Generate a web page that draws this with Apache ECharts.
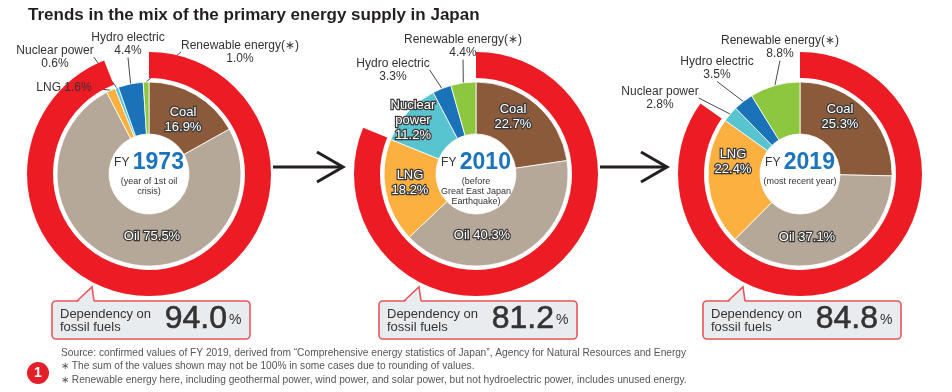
<!DOCTYPE html>
<html><head><meta charset="utf-8">
<script src="https://cdn.jsdelivr.net/npm/echarts@6/dist/echarts.min.js"></script>
<style>html,body{margin:0;padding:0;background:#fff}#c{width:952px;height:392px}</style>
</head><body><div id="c"></div>
<script>
// ---- data ----
const categories = ['Coal', 'Oil', 'LNG', 'Nuclear power', 'Hydro electric', 'Renewable energy(∗)'];
const years = ['1973', '2010', '2019'];
const yearNotes = ['(year of 1st oil\ncrisis)', '(before\nGreat East Japan\nEarthquake)', '(most recent year)'];
const values1973 = [16.9, 75.5, 1.6, 0.6, 4.4, 1.0];
const values2010 = [22.7, 40.3, 18.2, 11.2, 3.3, 4.4];
const values2019 = [25.3, 37.1, 22.4, 2.8, 3.5, 8.8];
const fossilDependency = [94.0, 81.2, 84.8];
const title = 'Trends in the mix of the primary energy supply in Japan';
const footnotes = [
  'Source: confirmed values of FY 2019, derived from “Comprehensive energy statistics of Japan”, Agency for Natural Resources and Energy',
  '∗ The sum of the values shown may not be 100% in some cases due to rounding of values.',
  '∗ Renewable energy here, including geothermal power, wind power, and solar power, but not hydroelectric power, includes unused energy.'
];

// ---- style / layout ----
const FONT = '"Liberation Sans", Arial, sans-serif';
const colors = ['#8b5a3a', '#b6a898', '#fbb040', '#57c4cf', '#1a72b9', '#8dc63f'];
const RED = '#ed1c24';
const centers = [[149, 174], [476, 174], [800, 174]];
const allValues = [values1973, values2010, values2019];
const labelBreaks = [
  ['\n', ' ', ' ', '\n', '\n', '\n'],
  ['\n', ' ', '\n', '\n', '\n', '\n'],
  ['\n', ' ', '\n', '\n', '\n', '\n']
];
const nameOverride = [{}, {3: 'Nuclear\npower'}, {}];
const insideSets = [[0, 1], [0, 1, 2, 3], [0, 1, 2]];
const labelPos = [
  [[183, 120], [152, 236], [64, 88], [55, 57], [128, 44], [240, 52]],
  [[513, 117], [482, 235], [410, 183], [413, 120], [393, 70], [463, 46]],
  [[840, 117], [807, 237], [733, 162], [660, 98], [717, 68], [780, 47]]
];

const insideLabel = {
  position: 'inside', color: '#fff', textBorderColor: '#3a3a3a', textBorderWidth: 2.5,
  fontSize: 13, lineHeight: 15, fontFamily: FONT
};
const outsideLabel = {
  position: 'outside', color: '#333', textBorderWidth: 0,
  fontSize: 12, lineHeight: 13.5, fontFamily: FONT
};

const series = [];
allValues.forEach(function (vals, ci) {
  // outer ring: dependency on fossil fuels
  series.push({
    type: 'pie', silent: true, center: centers[ci], radius: [96, 122],
    startAngle: 90, clockwise: true, avoidLabelOverlap: false, padAngle: 0,
    itemStyle: {borderWidth: 0, borderRadius: 0},
    label: {show: false}, labelLine: {show: false},
    emphasis: {disabled: true},
    data: [
      {value: fossilDependency[ci], name: 'Fossil fuels', itemStyle: {color: RED}},
      {value: +(100 - fossilDependency[ci]).toFixed(1), name: 'Other', itemStyle: {color: 'rgba(0,0,0,0)'}}
    ]
  });
  series.push({
    type: 'pie', silent: true, center: centers[ci], radius: [40, 92],
    startAngle: 90, clockwise: true, avoidLabelOverlap: false, padAngle: 0,
    itemStyle: {borderColor: '#fff', borderWidth: 0.8, borderRadius: 0},
    emphasis: {disabled: true},
    labelLine: {show: true, length: 5, length2: 0, lineStyle: {color: '#333', width: 0.9}},
    data: vals.map(function (v, k) {
      const inside = insideSets[ci].indexOf(k) >= 0;
      const nm = nameOverride[ci][k] || categories[k];
      const txt = nm + labelBreaks[ci][k] + v.toFixed(1) + '%';
      return {
        value: v, name: categories[k], itemStyle: {color: colors[k]},
        label: Object.assign({show: true, formatter: txt}, inside ? insideLabel : outsideLabel),
        labelLine: {show: !inside}
      };
    }),
    labelLayout: function (p) {
      const pos = labelPos[ci][p.dataIndex];
      return {x: pos[0], y: pos[1], align: 'center', verticalAlign: 'middle'};
    }
  });
});

const graphics = [];
graphics.push({type: 'text', left: 28, top: 7, style: {text: title, font: 'bold 17px ' + FONT, fill: '#231f20'}});
// arrows
[[273, 343], [600, 667]].forEach(function (a) {
  graphics.push({type: 'line', shape: {x1: a[0], y1: 167, x2: a[1] - 1, y2: 167}, style: {stroke: '#231f20', lineWidth: 3}});
  graphics.push({type: 'polyline', shape: {points: [[a[1] - 26, 152], [a[1], 167], [a[1] - 26, 182]]}, style: {stroke: '#231f20', lineWidth: 3, fill: null}});
});
centers.forEach(function (c, ci) {
  const cx = c[0];
  graphics.push({type: 'text', x: cx, y: 163, z: 10, style: {
    text: '{a|FY} {b|' + years[ci] + '}', textAlign: 'center', textVerticalAlign: 'middle',
    rich: {a: {font: '12px ' + FONT, fill: '#333'}, b: {font: 'bold 23px ' + FONT, fill: '#1c75bc'}}
  }});
  graphics.push({type: 'text', x: cx, y: 177, z: 10, style: {
    text: yearNotes[ci], textAlign: 'center', textVerticalAlign: 'top',
    font: '9px ' + FONT, fill: '#333', lineHeight: 10
  }});
  // callout box
  graphics.push({type: 'rect', z: 10, shape: {x: cx - 97, y: 301, width: 198, height: 38, r: 4},
    style: {fill: '#e9ecef', stroke: '#e8555b', lineWidth: 1.6}});
  graphics.push({type: 'polygon', z: 11, shape: {points: [[cx - 71.5, 302.5], [cx - 57, 287], [cx - 55, 302.5]]},
    style: {fill: '#e9ecef'}});
  graphics.push({type: 'polyline', z: 12, shape: {points: [[cx - 72, 301], [cx - 57, 287], [cx - 55, 301]]},
    style: {stroke: '#e8555b', lineWidth: 1.6, fill: null}});
  graphics.push({type: 'text', x: cx - 89, y: 320.5, z: 13, style: {
    text: 'Dependency on\nfossil fuels', textVerticalAlign: 'middle', font: '13px ' + FONT, fill: '#333', lineHeight: 13
  }});
  graphics.push({type: 'text', x: cx + 78, y: 319, z: 13, style: {
    text: fossilDependency[ci].toFixed(1), textAlign: 'right', textVerticalAlign: 'middle', font: '32px ' + FONT, fill: '#333',
    stroke: '#333', lineWidth: 0.6
  }});
  graphics.push({type: 'text', x: cx + 80, y: 320, z: 13, style: {
    text: '%', textAlign: 'left', textVerticalAlign: 'middle', font: '14px ' + FONT, fill: '#333'
  }});
});
footnotes.forEach(function (t, i) {
  graphics.push({type: 'text', x: 61, y: 353 + i * 13.5, style: {text: t, textVerticalAlign: 'middle', font: '10.2px ' + FONT, fill: '#555'}});
});
graphics.push({type: 'circle', shape: {cx: 38, cy: 373, r: 11}, style: {fill: '#e51f2a'}});
graphics.push({type: 'text', x: 38, y: 373.5, style: {text: '1', textAlign: 'center', textVerticalAlign: 'middle', font: 'bold 14px ' + FONT, fill: '#fff'}});

const chart = echarts.init(document.getElementById('c'));
chart.setOption({
  animation: false,
  backgroundColor: '#fff',
  series: series,
  graphic: graphics
});
</script></body></html>
